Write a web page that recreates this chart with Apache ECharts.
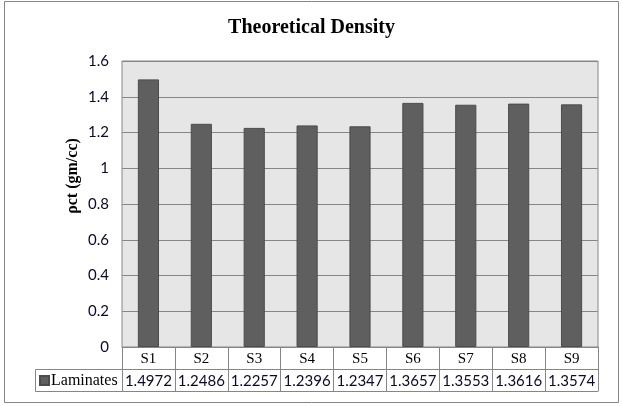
<!DOCTYPE html>
<html><head><meta charset="utf-8">
<script src="https://cdn.jsdelivr.net/npm/echarts@6/dist/echarts.min.js"></script>
<style>html,body{margin:0;padding:0;background:#fff}#c{width:623px;height:406px}</style>
</head><body><div id="c"></div>
<script>
const categories = ['S1','S2','S3','S4','S5','S6','S7','S8','S9'];
const laminates = [1.4972,1.2486,1.2257,1.2396,1.2347,1.3657,1.3553,1.3616,1.3574];
const seriesName = 'Laminates';
const chartTitle = 'Theoretical Density';
const yAxisTitle = 'ρct (gm/cc)';

const chart = echarts.init(document.getElementById('c'));
const gray = '#868686';
const serif = '"Liberation Serif", serif';
const sans = 'Lato, "Open Sans", sans-serif';
chart.setOption({
  animation: false,
  title: { text: chartTitle, left: 'center', top: 13,
    textStyle: { fontFamily: serif, fontWeight: 'bold', fontSize: 20, color: '#000' } },
  legend: { data: [seriesName], left: 39, top: 372, icon: 'rect', itemWidth: 9, itemHeight: 9,
    padding: 0,
    textStyle: { fontFamily: serif, fontSize: 16, lineHeight: 17, color: '#000', padding: [0,0,0,-3] } },
  grid: { left: 122, right: 25, top: 61, bottom: 59, show: true, backgroundColor: '#e6e6e6',
    borderColor: gray, borderWidth: 1 },
  xAxis: [
    { type: 'category', data: categories, position: 'bottom',
      axisLine: { lineStyle: { color: gray } },
      axisTick: { show: true, length: 44, lineStyle: { color: gray } },
      axisLabel: { interval: 0, margin: 5, fontFamily: serif, fontSize: 15, color: '#000' } },
    { type: 'category', data: laminates.map(v => v.toFixed(4)), position: 'bottom', offset: 22,
      axisLine: { lineStyle: { color: gray } }, axisTick: { show: false },
      axisLabel: { interval: 0, margin: 5, fontFamily: sans, fontSize: 15, color: '#0a0a2a' } },
    { type: 'category', data: categories, position: 'bottom', offset: 44,
      axisLine: { lineStyle: { color: gray } }, axisTick: { show: false }, axisLabel: { show: false } }
  ],
  yAxis: { type: 'value', min: 0, max: 1.6, interval: 0.2,
    axisLine: { show: false }, axisTick: { show: false },
    axisLabel: { margin: 13, fontFamily: sans, fontSize: 15, color: '#0a0a2a' },
    splitLine: { lineStyle: { color: gray } } },
  series: [{ name: seriesName, type: 'bar', data: laminates, barWidth: '40%',
    itemStyle: { color: '#5f5f5f', borderColor: '#4c4c4c', borderWidth: 1 } }],
  graphic: [
    { type: 'rect', shape: { x: 4.5, y: 1.5, width: 614, height: 401 },
      style: { fill: 'none', stroke: gray, lineWidth: 1 }, silent: true },
    { type: 'polyline', shape: { points: [[122, 369.5], [35.5, 369.5], [35.5, 391.5], [122, 391.5]] },
      style: { fill: 'none', stroke: gray, lineWidth: 1 }, silent: true },
    { type: 'text', x: 73, y: 176, rotation: Math.PI / 2,
      style: { text: yAxisTitle, fontFamily: serif, fontWeight: 'bold', fontSize: 16, fill: '#000',
        align: 'center', verticalAlign: 'middle' } }
  ]
});
</script></body></html>
